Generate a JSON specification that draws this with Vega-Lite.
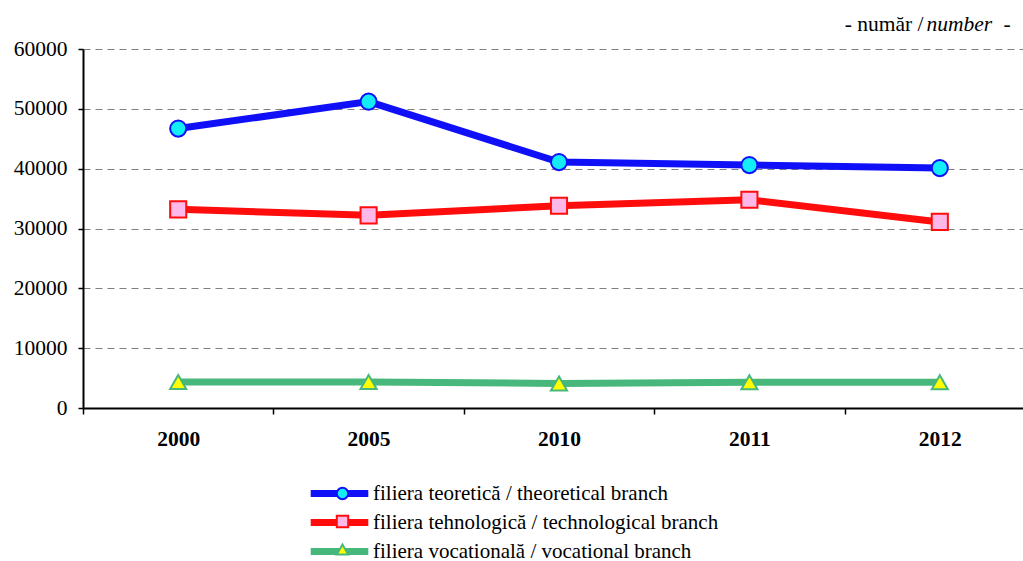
{
  "$schema": "https://vega.github.io/schema/vega-lite/v6.json",
  "width": 940,
  "height": 359,
  "autosize": {"type": "none"},
  "padding": {"left": 83, "top": 49, "right": 0, "bottom": 153},
  "background": "white",
  "config": {
    "view": {"stroke": null},
    "font": "Liberation Serif",
    "axis": {"labelFont": "Liberation Serif", "titleFont": "Liberation Serif", "labelColor": "black", "titleColor": "black"},
    "legend": {"labelFont": "Liberation Serif", "labelColor": "black"}
  },
  "data": {
    "values": [
      {"year": "2000", "series": "filiera teoretică / theoretical branch", "value": 46700},
      {"year": "2005", "series": "filiera teoretică / theoretical branch", "value": 51200},
      {"year": "2010", "series": "filiera teoretică / theoretical branch", "value": 41100},
      {"year": "2011", "series": "filiera teoretică / theoretical branch", "value": 40600},
      {"year": "2012", "series": "filiera teoretică / theoretical branch", "value": 40100},
      {"year": "2000", "series": "filiera tehnologică / technological branch", "value": 33200},
      {"year": "2005", "series": "filiera tehnologică / technological branch", "value": 32200},
      {"year": "2010", "series": "filiera tehnologică / technological branch", "value": 33800},
      {"year": "2011", "series": "filiera tehnologică / technological branch", "value": 34800},
      {"year": "2012", "series": "filiera tehnologică / technological branch", "value": 31100},
      {"year": "2000", "series": "filiera vocatională / vocational branch", "value": 4350},
      {"year": "2005", "series": "filiera vocatională / vocational branch", "value": 4350},
      {"year": "2010", "series": "filiera vocatională / vocational branch", "value": 4100},
      {"year": "2011", "series": "filiera vocatională / vocational branch", "value": 4300},
      {"year": "2012", "series": "filiera vocatională / vocational branch", "value": 4300}
    ]
  },
  "encoding": {
    "x": {
      "field": "year",
      "type": "ordinal",
      "scale": {"type": "band", "range": [0, 952], "paddingInner": 0, "paddingOuter": 0},
      "axis": {
        "title": "-",
        "titleX": 920,
        "titleY": -378,
        "titleAlign": "left",
        "titleBaseline": "alphabetic",
        "titleFontWeight": "normal",
        "titleFontSize": 21.5,
        "labelAngle": 0,
        "labelFontWeight": "bold",
        "labelFontSize": 21.5,
        "labelPadding": 14,
        "tickBand": "extent",
        "tickSize": 6,
        "tickColor": "black",
        "tickWidth": 1.5,
        "domainColor": "black",
        "domainWidth": 2,
        "grid": false
      }
    }
  },
  "layer": [
    {
      "mark": {"type": "line", "strokeWidth": 7},
      "encoding": {
        "y": {
          "field": "value",
          "type": "quantitative",
          "scale": {"domain": [0, 60000]},
          "axis": {
            "values": [0, 10000, 20000, 30000, 40000, 50000, 60000],
            "format": "d",
            "labelFontSize": 21.5,
            "labelPadding": 11,
            "tickSize": 5,
            "tickColor": "black",
            "tickWidth": 1.5,
            "domainColor": "black",
            "domainWidth": 2,
            "grid": true,
            "gridDash": [7, 5],
            "gridColor": "#808080",
            "gridWidth": 1.2,
            "title": "number",
            "titleX": 843,
            "titleY": -19,
            "titleAngle": 0,
            "titleAlign": "left",
            "titleBaseline": "alphabetic",
            "titleFontStyle": "italic",
            "titleFontWeight": "normal",
            "titleFontSize": 21.5
          }
        },
        "stroke": {
          "field": "series",
          "type": "nominal",
          "scale": {
            "domain": ["filiera teoretică / theoretical branch", "filiera tehnologică / technological branch", "filiera vocatională / vocational branch"],
            "range": ["#1010F8", "#FF0D0D", "#47B77C"]
          },
          "legend": {
            "orient": "none",
            "legendX": 246,
            "legendY": 434,
            "title": null,
            "symbolType": "M-4.8,0H4.8",
            "symbolSize": 144,
            "symbolStrokeWidth": 7,
            "labelFontSize": 21,
            "labelOffset": 23,
            "labelLimit": 600,
            "rowPadding": 0,
            "padding": 0
          }
        }
      }
    },
    {
      "mark": {"type": "point", "size": 260, "strokeWidth": 2, "opacity": 1},
      "encoding": {
        "y": {
          "field": "value",
          "type": "quantitative",
          "scale": {"domain": [0, 60000]},
          "axis": {
            "orient": "right",
            "domain": false,
            "ticks": false,
            "labels": false,
            "grid": false,
            "title": "- număr /",
            "titleX": -100,
            "titleY": -19,
            "titleAngle": 0,
            "titleAlign": "right",
            "titleBaseline": "alphabetic",
            "titleFontWeight": "normal",
            "titleFontSize": 21.5
          }
        },
        "stroke": {
          "field": "series",
          "type": "nominal",
          "scale": {
            "domain": ["filiera teoretică / theoretical branch", "filiera tehnologică / technological branch", "filiera vocatională / vocational branch"],
            "range": ["#1010F8", "#FF0D0D", "#47B77C"]
          },
          "legend": {"orient": "none", "legendX": 249, "legendY": 434, "title": null, "symbolSize": 130, "symbolStrokeWidth": 2, "labelFontSize": 21, "labelExpr": "''", "labelOffset": 23, "labelLimit": 600, "rowPadding": 6, "padding": 0}
        },
        "fill": {
          "field": "series",
          "type": "nominal",
          "scale": {
            "domain": ["filiera teoretică / theoretical branch", "filiera tehnologică / technological branch", "filiera vocatională / vocational branch"],
            "range": ["#13EEF6", "#FFB8E8", "#FFFF00"]
          },
          "legend": {"orient": "none", "legendX": 249, "legendY": 434, "title": null, "symbolSize": 130, "symbolStrokeWidth": 2, "labelFontSize": 21, "labelExpr": "''", "labelOffset": 23, "labelLimit": 600, "rowPadding": 6, "padding": 0}
        },
        "shape": {
          "field": "series",
          "type": "nominal",
          "scale": {
            "domain": ["filiera teoretică / theoretical branch", "filiera tehnologică / technological branch", "filiera vocatională / vocational branch"],
            "range": ["circle", "square", "triangle-up"]
          },
          "legend": {"orient": "none", "legendX": 249, "legendY": 434, "title": null, "symbolSize": 130, "symbolStrokeWidth": 2, "labelFontSize": 21, "labelExpr": "''", "labelOffset": 23, "labelLimit": 600, "rowPadding": 6, "padding": 0}
        }
      }
    }
  ],
  "resolve": {
    "scale": {"stroke": "independent", "fill": "independent", "shape": "independent"},
    "axis": {"y": "independent"},
    "legend": {"stroke": "independent", "fill": "independent", "shape": "independent"}
  }
}
